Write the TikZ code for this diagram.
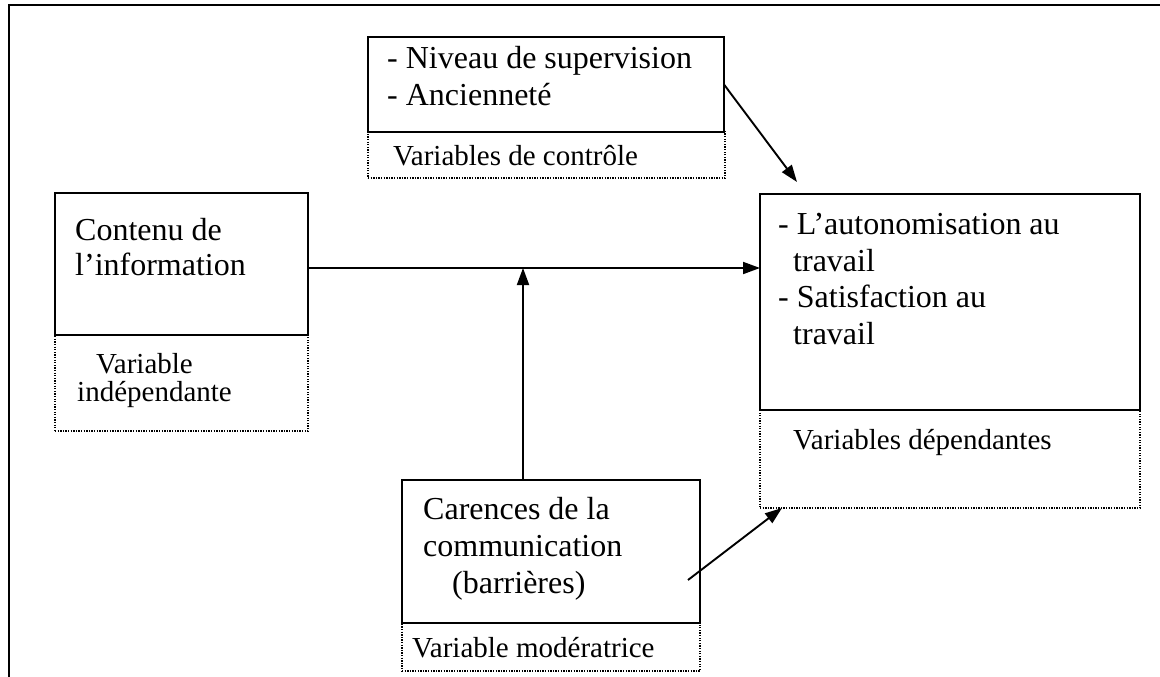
\documentclass[tikz,border=0pt]{standalone}
\usepackage{fontspec}
\setmainfont{Liberation Serif}
\usetikzlibrary{arrows.meta}
\begin{document}
\begin{tikzpicture}[x=1pt,y=-1pt,
  solidbox/.style={draw, line width=1.9pt, inner sep=0pt, outer sep=0pt, anchor=north west},
  dotbox/.style={draw, line width=1.2pt, dash pattern=on 1.3pt off 1.3pt, inner sep=0pt, outer sep=0pt, anchor=north west},
  big/.style={anchor=base west, inner sep=0pt, font=\fontsize{32}{37}\selectfont},
  small/.style={anchor=base west, inner sep=0pt, font=\fontsize{29}{33}\selectfont},
  arr/.style={line width=1.9pt, -{Triangle[length=17pt,width=12pt]}}]
\useasboundingbox (0,0) rectangle (1160,677);
% outer frame
\draw[line width=2pt] (9,677) -- (9,5) -- (1160,5);
% label (dotted) boxes first
\node[dotbox, minimum width=357pt, minimum height=46pt] (ctrlL) at (368,132) {};
\node[dotbox, minimum width=253pt, minimum height=96pt] (infoL) at (55,335) {};
\node[dotbox, minimum width=380pt, minimum height=98pt] (depL) at (760,410) {};
\node[dotbox, minimum width=298pt, minimum height=48pt] (modL) at (402,623) {};
% solid boxes
\node[solidbox, minimum width=356pt, minimum height=95pt] (ctrl) at (368,37) {};
\node[solidbox, minimum width=253pt, minimum height=142pt] (info) at (55,193) {};
\node[solidbox, minimum width=380pt, minimum height=216pt] (dep) at (760,194) {};
\node[solidbox, minimum width=298pt, minimum height=143pt] (mod) at (402,480) {};
% texts
\node[big] (t1) at (387,69) {- Niveau de supervision};
\node[big] (t2) at (387,106) {- Ancienneté};
\node[small] (t3) at (393,165) {Variables de contrôle};
\node[big] (t4) at (75,240) {Contenu de};
\node[big] (t5) at (75,275) {l’information};
\node[small] (t6) at (96,373) {Variable};
\node[small] (t7) at (77,401) {indépendante};
\node[big] (t8) at (778,234) {- L’autonomisation au};
\node[big] (t9) at (793,271) {travail};
\node[big] (t10) at (778,307) {- Satisfaction au};
\node[big] (t11) at (793,344) {travail};
\node[small] (t12) at (793,449) {Variables dépendantes};
\node[big] (t13) at (423,519) {Carences de la};
\node[big] (t14) at (423,556) {communication};
\node[big] (t15) at (452,593) {(barrières)};
\node[small] (t16) at (412,657) {Variable modératrice};
% connectors
\coordinate (j) at (523,268);
\coordinate (e1) at (797,182);
\coordinate (s2) at (688,580);
\coordinate (e2) at (782,508);
\draw[arr] (info.east |- j) -- (j -| dep.west);
\draw[arr] (mod.north -| j) -- (j);
\draw[arr] (ctrl.east) -- (e1);
\draw[arr] (s2) -- (e2);
\end{tikzpicture}
\end{document}
